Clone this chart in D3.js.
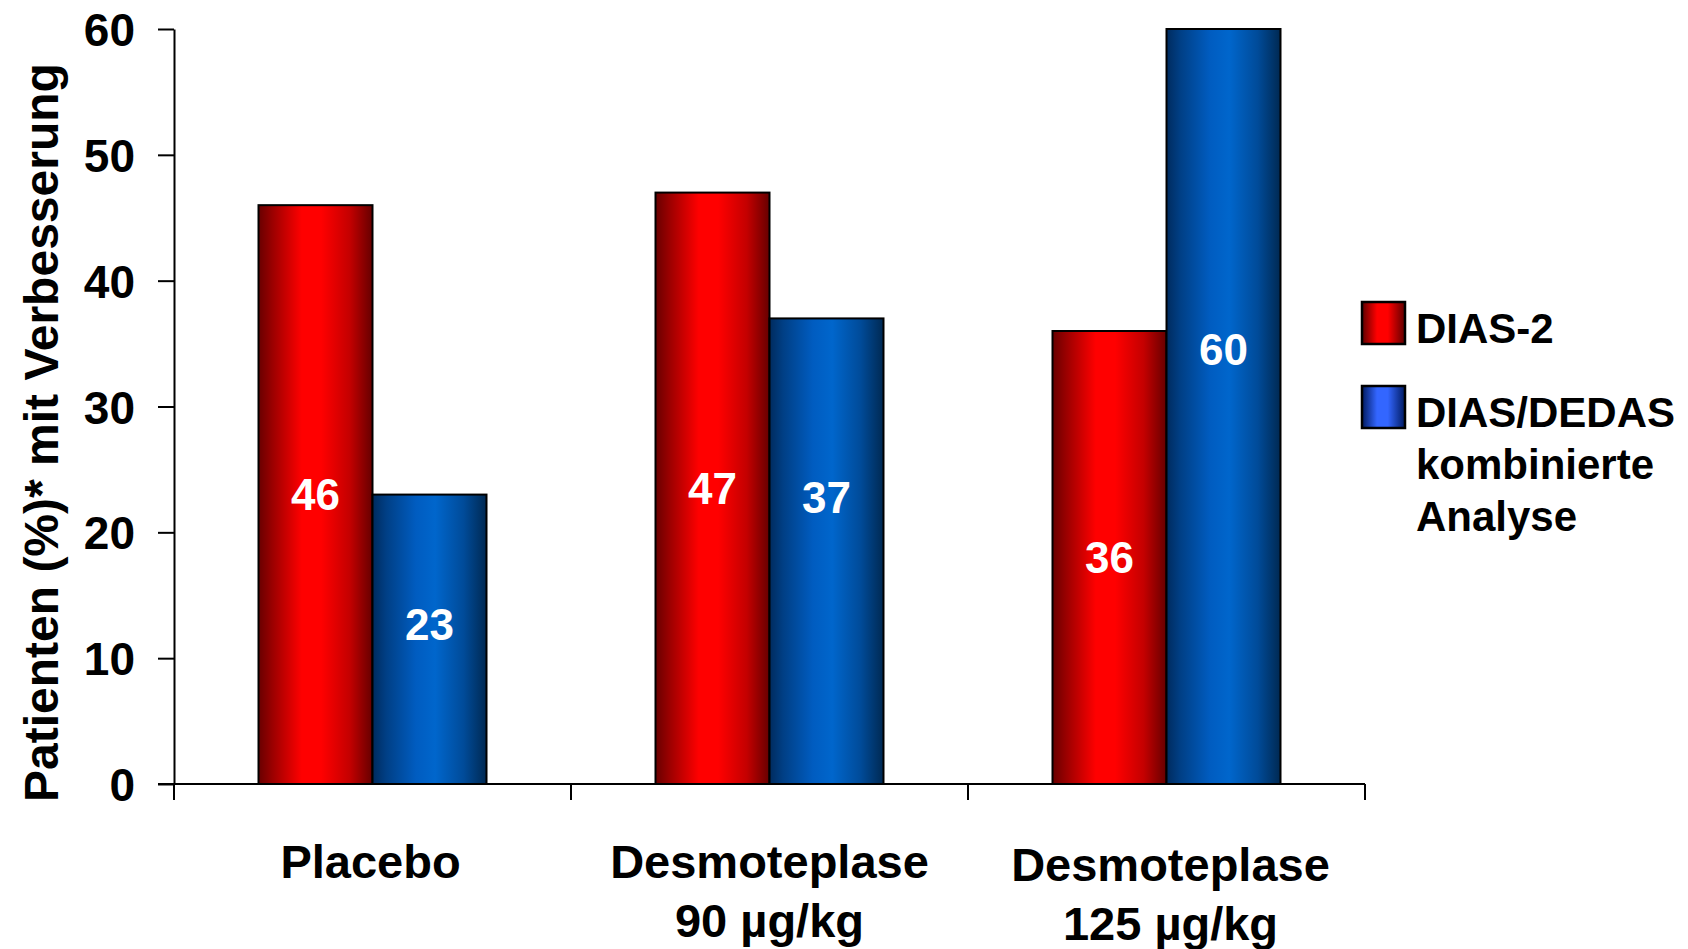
<!DOCTYPE html>
<html>
<head>
<meta charset="utf-8">
<script src="https://cdn.jsdelivr.net/npm/d3@7"></script>
<style>
  html, body { margin: 0; padding: 0; background: #fff; }
  svg { display: block; font-family: Arial, "Liberation Sans", Helvetica, sans-serif; font-weight: bold; }
</style>
</head>
<body>
<svg id="chart" width="1688" height="949"></svg>
<script>
// Treatment groups (x categories, one line per tspan)
const categories = [["Placebo"], ["Desmoteplase", "90 µg/kg"], ["Desmoteplase", "125 µg/kg"]];
// Series names
const seriesNames = ["DIAS-2", "DIAS/DEDAS kombinierte Analyse"];
const legendLines = [["DIAS-2"], ["DIAS/DEDAS", "kombinierte", "Analyse"]];
// Percent of patients with improvement
const dias2 = [46, 47, 36];
const combined = [23, 37, 60];
// Y axis ticks
const yTicks = [0, 10, 20, 30, 40, 50, 60];
// Height (in axis units) at which the combined-analysis value labels sit
const combinedLabelLevel = [12.7, 22.8, 34.5];

const svg = d3.select("#chart");
const defs = svg.append("defs");

function barGradient(id, stops) {
  const g = defs.append("linearGradient").attr("id", id)
    .attr("x1", "0%").attr("x2", "100%").attr("y1", "0%").attr("y2", "0%");
  stops.forEach(([o, c]) => g.append("stop").attr("offset", o).attr("stop-color", c));
}
barGradient("gRed", [[0, "#680000"], [0.12, "#9a0000"], [0.38, "#ff0000"], [0.55, "#ff0000"], [0.8, "#c40000"], [1, "#660000"]]);
barGradient("gBlue", [[0, "#002b5e"], [0.12, "#003f85"], [0.38, "#005cc0"], [0.55, "#0066cc"], [0.8, "#004b99"], [1, "#002952"]]);
barGradient("gRedKey", [[0, "#5e0000"], [0.35, "#ff0000"], [0.6, "#ff0000"], [1, "#5e0000"]]);
barGradient("gBlueKey", [[0, "#001a60"], [0.35, "#3366ff"], [0.6, "#3366ff"], [1, "#001a60"]]);

const x0 = 174, x1 = 1365, yTop = 29, yBase = 784;

const x = d3.scaleBand().domain(d3.range(categories.length)).range([x0, x1]).paddingInner(0).paddingOuter(0);
const y = d3.scaleLinear().domain([0, 60]).range([yBase, yTop]);
const barW = 114;

const rows = categories.map((c, i) => ({ i, values: [dias2[i], combined[i]] }));
const fills = ["url(#gRed)", "url(#gBlue)"];

// Bars
const groups = svg.append("g").selectAll("g").data(rows).join("g")
  .attr("transform", d => `translate(${x(d.i) + x.bandwidth() / 2 - barW},0)`);
groups.selectAll("rect").data(d => d.values.map((v, s) => ({ v, s })))
  .join("rect")
  .attr("x", d => d.s * barW)
  .attr("y", d => y(d.v))
  .attr("width", barW)
  .attr("height", d => y(0) - y(d.v))
  .attr("fill", d => fills[d.s])
  .attr("stroke", "#000")
  .attr("stroke-width", 2);

// Value labels
groups.selectAll("text").data(d => d.values.map((v, s) => ({ v, s, i: d.i })))
  .join("text")
  .attr("x", d => d.s * barW + barW / 2)
  .attr("y", d => (d.s === 0 ? y(d.v / 2) : y(combinedLabelLevel[d.i])) + 15.5)
  .attr("text-anchor", "middle")
  .attr("fill", "#fff")
  .attr("font-size", 44)
  .text(d => d.v);

// Y axis
const yAxis = d3.axisLeft(y).tickValues(yTicks).tickSize(16).tickPadding(23).tickSizeOuter(0);
const gy = svg.append("g").attr("transform", `translate(${x0},0)`).call(yAxis);
gy.select(".domain").attr("stroke", "#000").attr("stroke-width", 2);
gy.selectAll(".tick line").attr("stroke", "#000").attr("stroke-width", 2);
gy.selectAll(".tick text").attr("font-size", 46).attr("font-family", null).attr("fill", "#000").attr("dy", "0.36em");

// X axis line with category divider ticks
const dividers = d3.range(categories.length + 1).map(k => x0 + k * x.bandwidth());
svg.append("line").attr("x1", 158).attr("x2", x1).attr("y1", yBase).attr("y2", yBase)
  .attr("stroke", "#000").attr("stroke-width", 2);
svg.append("g").selectAll("line").data(dividers).join("line")
  .attr("x1", d => d).attr("x2", d => d).attr("y1", yBase).attr("y2", yBase + 16)
  .attr("stroke", "#000").attr("stroke-width", 2);

// Category labels
svg.append("g").selectAll("text").data(categories.map((c, i) => ({ c, i }))).join("text")
  .attr("text-anchor", "middle")
  .attr("font-size", 47)
  .attr("fill", "#000")
  .each(function (d) {
    const t = d3.select(this);
    d.c.forEach((line, k) => {
      t.append("tspan")
        .attr("x", x(d.i) + x.bandwidth() / 2 + (d.i === 2 ? 4 : d.i === 0 ? -2 : 0))
        .attr("y", 878 + (d.i === 2 ? 3 : 0) + k * 59)
        .text(line);
    });
  });

// Y axis title
svg.append("text")
  .attr("transform", "translate(58,802) rotate(-90)")
  .attr("font-size", 48)
  .attr("fill", "#000")
  .text("Patienten (%)* mit Verbesserung");

// Legend
const keyFills = ["url(#gRedKey)", "url(#gBlueKey)"];
const keyTops = [302, 386];
const legend = svg.append("g").selectAll("g").data(seriesNames.map((n, s) => ({ n, s }))).join("g");
legend.append("rect")
  .attr("x", 1362).attr("y", d => keyTops[d.s])
  .attr("width", 43).attr("height", 42)
  .attr("fill", d => keyFills[d.s])
  .attr("stroke", "#000").attr("stroke-width", 2.5);
legend.append("text")
  .attr("font-size", 42).attr("fill", "#000")
  .each(function (d) {
    const t = d3.select(this);
    legendLines[d.s].forEach((line, k) => {
      t.append("tspan").attr("x", 1416).attr("y", keyTops[d.s] + 41 + k * 52).text(line);
    });
  });
</script>
</body>
</html>
